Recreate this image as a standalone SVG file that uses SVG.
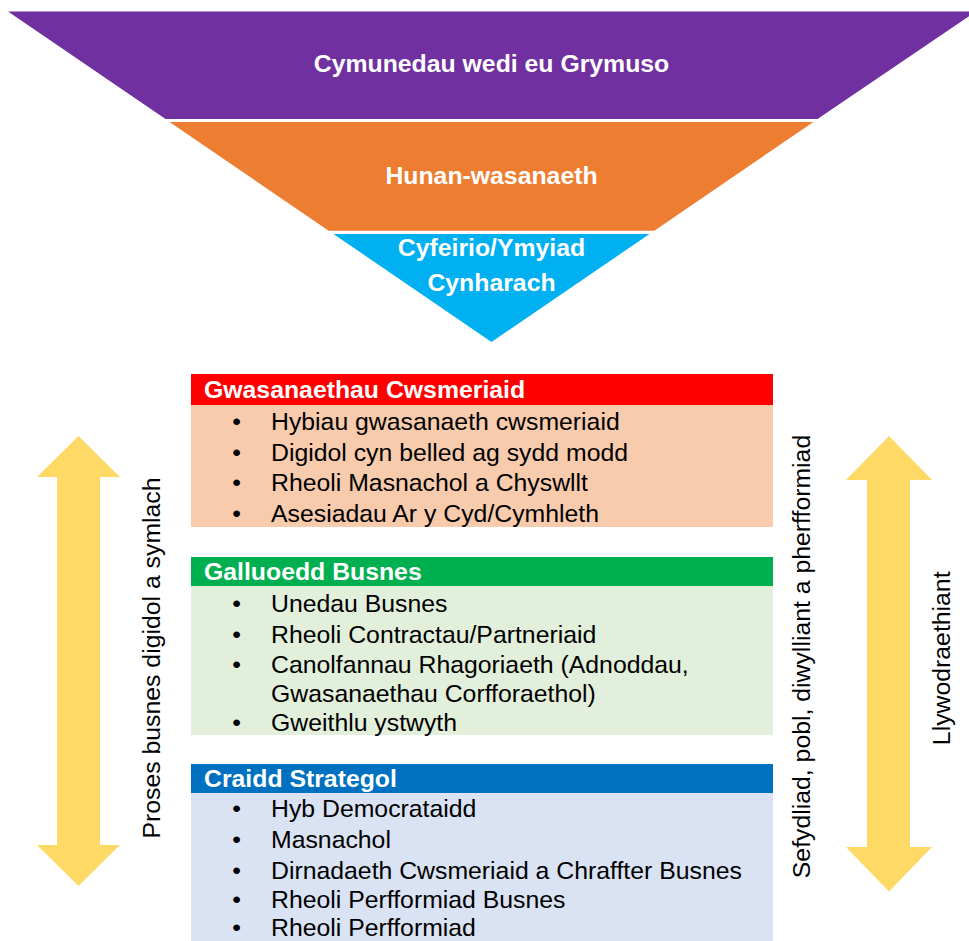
<svg xmlns="http://www.w3.org/2000/svg" width="969" height="941" viewBox="0 0 969 941">
<style>
.t{font-family:"Liberation Sans",Arial,sans-serif;font-size:24.8px;fill:#000}
.w{font-family:"Liberation Sans",Arial,sans-serif;font-size:24.8px;font-weight:bold;fill:#fff}
.b{text-anchor:middle}
.arr{fill:#FFD966}
</style>
<rect width="969" height="941" fill="#fff"/>
<g id="funnel-top">
<polygon points="8,11.5 976,11.5 817.5,119 165.5,119" fill="#7030A0"/>
<text class="w b" x="491.5" y="72">Cymunedau wedi eu Grymuso</text>
</g>
<g id="funnel-middle">
<polygon points="169.6,122 813.4,122 654.3,230.7 328.7,230.7" fill="#ED7D31"/>
<text class="w b" x="491.5" y="184">Hunan-wasanaeth</text>
</g>
<g id="funnel-bottom">
<polygon points="333.5,234 649.5,234 491.5,342" fill="#00B0F0"/>
<text class="w b" x="491.5" y="256">Cyfeirio/Ymyiad</text>
<text class="w b" x="491.5" y="291">Cynharach</text>
</g>
<g id="customer-services">
<rect x="191" y="374" width="582" height="31" fill="#FF0000"/>
<rect x="191" y="405" width="582" height="122" fill="#F8CBAD"/>
<text class="w" x="204" y="397.5">Gwasanaethau Cwsmeriaid</text>
<text class="t b" x="236.5" y="430">•</text><text class="t" x="271" y="430">Hybiau gwasanaeth cwsmeriaid</text>
<text class="t b" x="236.5" y="461">•</text><text class="t" x="271" y="461">Digidol cyn belled ag sydd modd</text>
<text class="t b" x="236.5" y="491">•</text><text class="t" x="271" y="491">Rheoli Masnachol a Chyswllt</text>
<text class="t b" x="236.5" y="522">•</text><text class="t" x="271" y="522">Asesiadau Ar y Cyd/Cymhleth</text>
</g>
<g id="business-capabilities">
<rect x="191" y="557" width="582" height="29" fill="#00B050"/>
<rect x="191" y="586" width="582" height="149" fill="#E2EFDA"/>
<text class="w" x="204" y="580">Galluoedd Busnes</text>
<text class="t b" x="236.5" y="612">•</text><text class="t" x="271" y="612">Unedau Busnes</text>
<text class="t b" x="236.5" y="643">•</text><text class="t" x="271" y="643">Rheoli Contractau/Partneriaid</text>
<text class="t b" x="236.5" y="673">•</text><text class="t" x="271" y="673">Canolfannau Rhagoriaeth (Adnoddau,</text>
<text class="t" x="271" y="702">Gwasanaethau Corfforaethol)</text>
<text class="t b" x="236.5" y="731">•</text><text class="t" x="271" y="731">Gweithlu ystwyth</text>
</g>
<g id="strategic-core">
<rect x="191" y="764" width="582" height="29" fill="#0070C0"/>
<rect x="191" y="793" width="582" height="148" fill="#DAE3F3"/>
<text class="w" x="204" y="787">Craidd Strategol</text>
<text class="t b" x="236.5" y="817">•</text><text class="t" x="271" y="817">Hyb Democrataidd</text>
<text class="t b" x="236.5" y="848">•</text><text class="t" x="271" y="848">Masnachol</text>
<text class="t b" x="236.5" y="879">•</text><text class="t" x="271" y="879">Dirnadaeth Cwsmeriaid a Chraffter Busnes</text>
<text class="t b" x="236.5" y="908">•</text><text class="t" x="271" y="908">Rheoli Perfformiad Busnes</text>
<text class="t b" x="236.5" y="936">•</text><text class="t" x="271" y="936">Rheoli Perfformiad</text>
</g>
<g id="connectors">
<polygon class="arr" points="78.5,436 120,477 100,477 100,845 120,845 78.5,886 37,845 57,845 57,477 37,477"/>
<polygon class="arr" points="889,436 932,480 910,480 910,847 932,847 889,891.5 846,847 867,847 867,480 846,480"/>
</g>
<g id="label-left">
<text class="t b" transform="translate(160,658) rotate(-90)">Proses busnes digidol a symlach</text>
</g>
<g id="label-right">
<text class="t b" transform="translate(810,656.5) rotate(-90)">Sefydliad, pobl, diwylliant a pherfformiad</text>
</g>
<g id="label-governance">
<text class="t b" transform="translate(950,658.3) rotate(-90)">Llywodraethiant</text>
</g>
</svg>
